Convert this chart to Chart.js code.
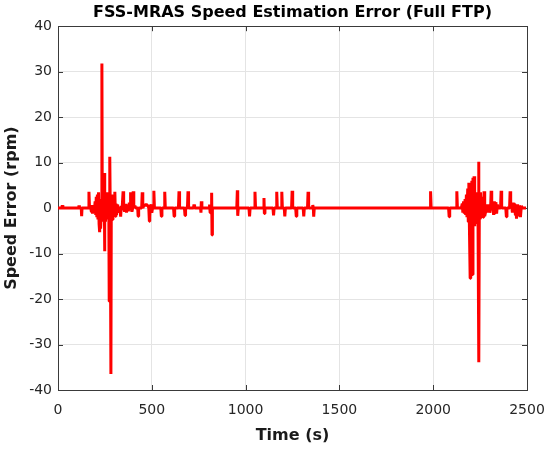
<!DOCTYPE html>
<html>
<head>
    <meta charset="utf-8">
    <title>FSS-MRAS Speed Estimation Error</title>
    <script src="https://cdn.jsdelivr.net/npm/chart.js@4"></script>
    <style>
        body { margin: 0; background: #fff; }
        canvas { display: block; }
    </style>
</head>
<body>
    <canvas id="plotCanvas" width="550" height="450"></canvas>
    <script>
        // ========= data ==============================

        const xTicks = [0, 500, 1000, 1500, 2000, 2500]
        const yTicks = [-40, -30, -20, -10, 0, 10, 20, 30, 40]

        const times = [
            0, 20, 23, 26, 110, 112, 114, 124, 126, 128,
            162, 165, 168, 175, 178, 181, 184, 187,
            195, 198, 201, 204, 207, 210, 213, 216, 219, 222, 224, 227, 232, 234, 236,
            238, 240, 243, 246, 248, 250, 253, 256, 259, 262, 265, 268, 271, 273, 275,
            277, 279, 282, 284, 287, 290, 293, 296, 299, 303, 306, 309, 312, 315, 318, 322,
            330, 334, 337, 342, 347, 350, 355, 360, 365, 370, 375, 380, 384, 387, 390,
            394, 398, 401, 404, 410, 414, 425, 427, 430, 446, 449, 452, 460, 465, 470,
            475, 480, 484, 487, 489, 491, 496, 500, 504, 508, 511, 514, 548, 551, 554,
            566, 569, 572, 616, 619, 622, 642, 645, 648, 674, 677, 680, 690, 693, 696,
            722, 725, 728, 760, 762, 764, 767, 805, 808, 811, 814, 817, 819, 821, 823,
            953, 956, 958, 961, 1018, 1021, 1024, 1047, 1050, 1053, 1095, 1098, 1100, 1103,
            1146, 1149, 1152, 1163, 1166, 1169, 1190, 1193, 1196, 1206, 1209, 1212,
            1245, 1248, 1251, 1267, 1270, 1273, 1307, 1310, 1313, 1330, 1333, 1336,
            1356, 1358, 1361, 1363, 1366,
            1983, 1986, 1989, 2082, 2085, 2088, 2123, 2126, 2129,
            2150, 2155, 2158, 2162, 2166, 2170, 2173, 2177, 2180, 2184, 2187, 2190, 2193,
            2197, 2200, 2203, 2206, 2209, 2212, 2215, 2218, 2221, 2224, 2227, 2230, 2233,
            2236, 2239, 2242, 2244, 2246, 2249, 2252, 2255, 2258, 2261, 2264, 2267, 2269,
            2271, 2273, 2276, 2288, 2291, 2297, 2302, 2306, 2309, 2312, 2318, 2322, 2326,
            2330, 2334, 2338, 2342, 2346, 2359, 2362, 2365, 2387, 2390, 2393, 2407, 2410,
            2413, 2418, 2422, 2426, 2430, 2434, 2438, 2441, 2444, 2450, 2456, 2460, 2465,
            2470, 2475, 2495
        ]

        const errors = [
            0, 0, 0.6, 0, 0, 0.6, 0, 0, -1.8, 0,
            0, 3.6, 0, 0, -0.8, 0.7, -1.2, 0,
            0, 1.5, -1.5, 2.5, -2.0, 3.0, -2.5, 3.5, -3.5, -5.3, 2.0, -4.5, 0, 31.8, 0,
            -3.0, 4.0, -2.0, 7.7, -9.5, 3.0, -3.0, 2.5, -2.0, 3.5, -2.5, 2.0, -1.5, -20.5, 2.0,
            11.3, -3.0, -36.5, 0, 3.0, -2.5, 2.0, -1.5, 1.5, 3.6, -1.8, 1.0, -1.5, 0.8, -1.0, 0,
            0, -1.9, 0.5, 0, 3.7, 0, -0.8, 0.9, -1.0, 0.8, -0.7, 1.2, 0, 3.5, 0,
            -0.8, 0, 3.7, 0, 0.5, 0, 0, -1.8, 0, 0, 3.5, 0, 0.8, 0.5, 0.9,
            0.6, 0.5, 0, -2.9, -2.0, 0, 0.8, -1.0, 0, 0, 3.8, 0, 0, -1.8, 0,
            0, 3.6, 0, 0, -1.8, 0, 0, 3.7, 0, 0, -1.6, 0, 0, 3.7, 0,
            0, 0.8, 0, 0, -1.0, 1.5, 0, 0, 0.8, -1.0, 0, 0, 3.4, -5.9, 0,
            0, 3.9, -1.7, 0, 0, -1.8, 0, 0, 3.6, 0, 0, 2.2, -1.2, 0,
            0, -1.6, 0, 0, 3.6, 0, 0, 3.6, 0, 0, -1.8, 0,
            0, 3.8, 0, 0, -1.8, 0, 0, -1.8, 0, 0, 3.6, 0,
            0, 0.7, 0, -1.9, 0,
            0, 3.7, 0, 0, -1.9, 0, 0, 3.7, 0,
            0, 1.0, -1.0, 1.5, -1.2, 2.0, -1.5, 3.0, -2.0, 4.3, -3.0, 5.6, -4.0,
            -15.4, 4.5, -5.0, 6.0, -14.6, 6.7, -3.0, 7.0, -4.0, 3.0, -3.5, 3.5, -2.5,
            2.5, -3.0, 10.2, -33.9, 2.0, -2.5, 3.5, -2.0, 2.5, -1.5, 1.5, -2.0, 0,
            3.7, 0, -1.8, 0.8, -1.0, 0.8, -1.0, 0, 3.8, 0, 1.2, -1.5, 1.5,
            -1.0, 1.3, -1.2, 0.8, 0, 0, 3.8, 0, 0, -1.9, 0, 0, 3.7,
            0, 0.8, -1.0, 1.2, -1.0, 1.0, -1.5, 0.5, -2.3, 0.8, -1.8, 0.6, -2.0,
            0.5, 0, 0
        ]

        // =========== Chart setup ===========

        const axisColor = '#3a3a3a'
        const tickFont = { family: 'DejaVu Sans', size: 14 }
        const labelFont = { family: 'DejaVu Sans', size: 16, weight: 'bold' }

        // MATLAB style box with inward ticks on all four sides
        const boxPlugin = {
            id: 'box',
            beforeDatasetsDraw(chart) {
                const { ctx, chartArea: a, scales } = chart
                const len = 5
                ctx.save()
                ctx.strokeStyle = axisColor
                ctx.lineWidth = 1
                ctx.beginPath()
                xTicks.forEach(v => {
                    const x = Math.round(scales.x.getPixelForValue(v)) + 0.5
                    ctx.moveTo(x, a.bottom); ctx.lineTo(x, a.bottom - len)
                    ctx.moveTo(x, a.top); ctx.lineTo(x, a.top + len)
                })
                yTicks.forEach(v => {
                    const y = Math.round(scales.y.getPixelForValue(v)) + 0.5
                    ctx.moveTo(a.left, y); ctx.lineTo(a.left + len, y)
                    ctx.moveTo(a.right, y); ctx.lineTo(a.right - len, y)
                })
                ctx.stroke()
                ctx.strokeRect(Math.round(a.left) + 0.5, Math.round(a.top) + 0.5,
                    Math.round(a.right - a.left), Math.round(a.bottom - a.top))
                ctx.restore()
            }
        }

        function initPlot() {
            const canvas = document.getElementById('plotCanvas')
            return new Chart(canvas, {
                type: 'line',
                data: {
                    datasets: [{
                        label: 'Speed error',
                        data: times.map((t, i) => ({ x: t, y: errors[i] })),
                        borderColor: '#ff0000',
                        borderWidth: 3,
                        borderJoinStyle: 'bevel',
                        pointRadius: 0,
                        tension: 0,
                        fill: false,
                    }],
                },
                options: {
                    responsive: false,
                    animation: false,
                    devicePixelRatio: 1,
                    layout: { padding: { left: 0, right: 23, top: 0, bottom: 0 } },
                    plugins: {
                        legend: { display: false },
                        tooltip: { enabled: false },
                        title: {
                            display: true,
                            fullSize: false,
                            text: 'FSS-MRAS Speed Estimation Error (Full FTP)',
                            color: '#000',
                            font: { family: 'DejaVu Sans', size: 16, weight: 'bold' },
                            padding: { top: 3, bottom: 4 },
                        },
                    },
                    scales: {
                        x: {
                            type: 'linear',
                            min: 0,
                            max: 2500,
                            afterFit: s => { s.height = 60; s.paddingLeft = 0; s.paddingRight = 0 },
                            afterBuildTicks: s => { s.ticks = xTicks.map(v => ({ value: v })) },
                            ticks: {
                                color: '#262626', font: tickFont, padding: 12, maxRotation: 0,
                                callback: v => String(v),
                            },
                            grid: { color: '#e4e4e4', drawTicks: false },
                            border: { display: false },
                            title: {
                                display: true, text: 'Time (s)', color: '#1a1a1a',
                                font: labelFont, padding: { top: 0, bottom: 5 },
                            },
                        },
                        y: {
                            type: 'linear',
                            min: -40,
                            max: 40,
                            afterFit: s => { s.width = 58; s.paddingTop = 0; s.paddingBottom = 0 },
                            afterBuildTicks: s => { s.ticks = yTicks.map(v => ({ value: v })) },
                            ticks: {
                                color: '#262626', font: tickFont, padding: 6,
                                callback: v => String(v),
                            },
                            grid: { color: '#e4e4e4', drawTicks: false },
                            border: { display: false },
                            title: {
                                display: true, text: 'Speed Error (rpm)', color: '#1a1a1a',
                                font: labelFont, padding: { top: 2, bottom: 0 },
                            },
                        },
                    },
                },
                plugins: [boxPlugin],
            })
        }

        initPlot()
    </script>
</body>
</html>
